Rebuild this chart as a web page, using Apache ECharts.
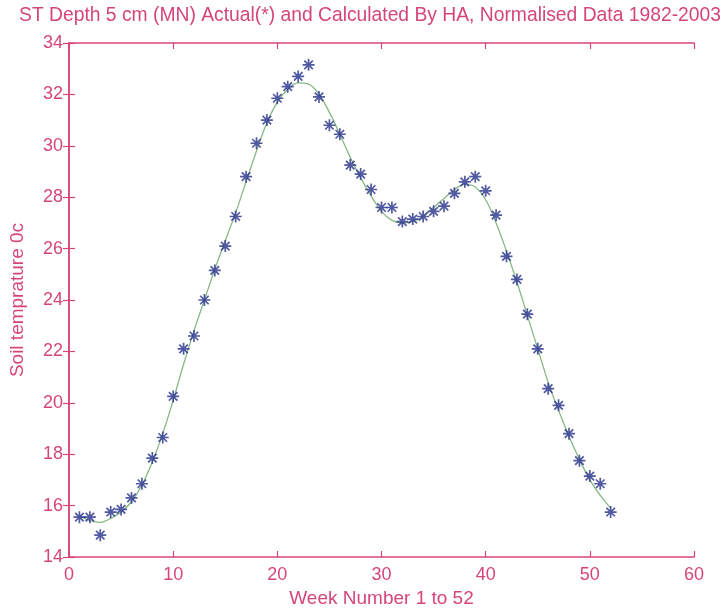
<!DOCTYPE html>
<html>
<head>
<meta charset="utf-8">
<script src="https://cdn.jsdelivr.net/npm/echarts@6/dist/echarts.min.js"></script>
<style>
  html, body { margin: 0; padding: 0; background: #fff; }
  #chart { width: 723px; height: 608px; }
</style>
</head>
<body>
<div id="chart"></div>
<script>
// Weekly soil temperature at 5 cm depth (week 1..52)
const weeks = Array.from({ length: 52 }, (_, i) => i + 1);

// Measured normalised values (asterisks)
const actual = [
  15.55, 15.55, 14.85, 15.75, 15.85, 16.3, 16.85, 17.85, 18.65, 20.25,
  22.1, 22.6, 24.0, 25.15, 26.1, 27.25, 28.8, 30.1, 31.0, 31.85,
  32.3, 32.7, 33.15, 31.9, 30.8, 30.45, 29.25, 28.9, 28.3, 27.6,
  27.6, 27.05, 27.15, 27.25, 27.45, 27.65, 28.15, 28.6, 28.8, 28.25,
  27.3, 25.7, 24.8, 23.45, 22.1, 20.55, 19.9, 18.8, 17.75, 17.15,
  16.85, 15.75
];

// Harmonic analysis fit (solid line)
const calculated = [
  15.6, 15.42, 15.35, 15.5, 15.75, 16.15, 16.8, 17.7, 18.8, 20.1,
  21.5, 22.8, 24.0, 25.2, 26.3, 27.4, 28.6, 29.8, 30.9, 31.7,
  32.2, 32.45, 32.4, 32.0, 31.3, 30.45, 29.55, 28.75, 28.05, 27.45,
  27.1, 27.0, 27.05, 27.25, 27.6, 27.95, 28.3, 28.5, 28.4, 27.9,
  27.0, 25.9, 24.7, 23.4, 22.1, 20.8, 19.7, 18.7, 17.8, 17.0,
  16.4, 15.9
];

const xTicks = { min: 0, max: 60, interval: 10 };
const yTicks = { min: 14, max: 34, interval: 2 };

const axisColor = '#d6457a';
const font = 'Liberation Sans, Arial, sans-serif';

const pairs = (vals) => weeks.map((w, i) => [w, vals[i]]);

const asterisk = 'path://M0,-5L0,5M-5,0L5,0M-3.54,-3.54L3.54,3.54M-3.54,3.54L3.54,-3.54';

const baseAxis = {
  axisLine: { show: true, lineStyle: { color: axisColor, width: 1.5 } },
  axisTick: { show: true, inside: true, length: 6, lineStyle: { color: axisColor, width: 1.2 } },
  splitLine: { show: false },
  axisLabel: { color: axisColor, fontFamily: font, fontSize: 18 }
};

const chart = echarts.init(document.getElementById('chart'), null, { renderer: 'canvas' });
chart.setOption({
  animation: false,
  backgroundColor: '#fff',
  title: {
    text: 'ST Depth 5 cm (MN) Actual(*) and Calculated By HA, Normalised Data 1982-2003',
    left: 365, top: 1, textAlign: 'center',
    textStyle: { color: axisColor, fontFamily: font, fontSize: 19.3, fontWeight: 'normal' }
  },
  grid: { left: 69, right: 29, top: 43, bottom: 51, containLabel: false, outerBoundsMode: 'none' },
  xAxis: [
    Object.assign({}, baseAxis, {
      type: 'value', position: 'bottom', ...xTicks,
      name: 'Week Number 1 to 52', nameLocation: 'middle', nameGap: 32,
      nameTextStyle: { color: axisColor, fontFamily: font, fontSize: 19 },
      axisLabel: { color: axisColor, fontFamily: font, fontSize: 18, margin: 9 }
    }),
    Object.assign({}, baseAxis, {
      type: 'value', position: 'top', ...xTicks,
      axisLabel: { show: false }
    })
  ],
  yAxis: [
    Object.assign({}, baseAxis, {
      type: 'value', position: 'left', ...yTicks,
      name: 'Soil temprature 0c', nameLocation: 'middle', nameGap: 42,
      nameTextStyle: { color: axisColor, fontFamily: font, fontSize: 19 },
      axisLabel: { color: axisColor, fontFamily: font, fontSize: 18, margin: 6 }
    }),
    Object.assign({}, baseAxis, {
      type: 'value', position: 'right', ...yTicks,
      axisLabel: { show: false }
    })
  ],
  series: [
    {
      name: 'Calculated',
      type: 'line',
      data: pairs(calculated),
      smooth: 0.4,
      showSymbol: false,
      lineStyle: { color: '#86b886', width: 1.3 },
      z: 2
    },
    {
      name: 'Actual',
      type: 'scatter',
      data: pairs(actual),
      symbol: asterisk,
      symbolSize: 12,
      itemStyle: { color: 'rgba(0,0,0,0)', borderColor: '#26308c', borderWidth: 1.7 },
      z: 3
    }
  ]
});
</script>
</body>
</html>
